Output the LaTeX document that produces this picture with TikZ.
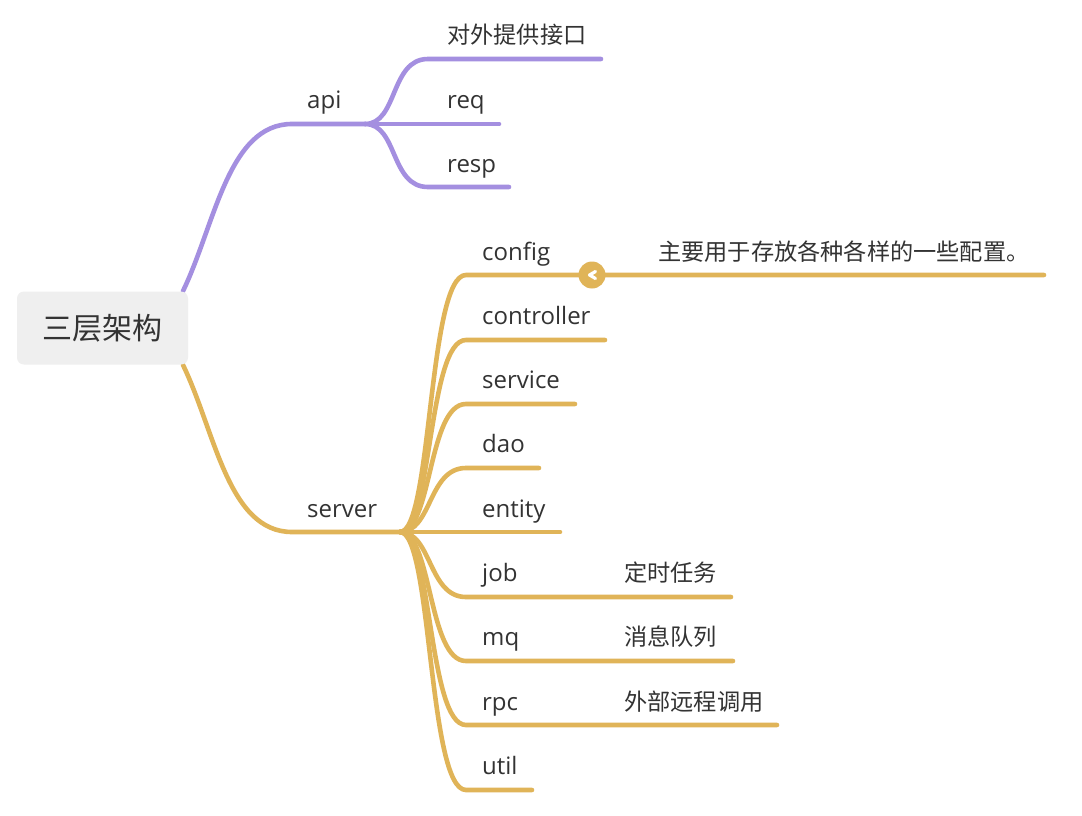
\documentclass[tikz,border=0pt]{standalone}
\usepackage{fontspec}
\newfontfamily\latinf{Open Sans}
\newfontfamily\cjkf{Noto Sans CJK SC}
\definecolor{purp}{HTML}{A48FE0}
\definecolor{gold}{HTML}{E0B458}
\definecolor{ink}{HTML}{333333}
\definecolor{rootbg}{HTML}{EFEFEF}
\tikzset{
  lat/.style={font=\latinf\fontsize{24}{26}\selectfont,text=ink,anchor=base west,inner sep=0pt},
  han/.style={font=\cjkf\fontsize{23.2}{26}\selectfont,text=ink,anchor=base west,inner sep=0pt},
  rootbox/.style={fill=rootbg,rounded corners=7pt,minimum width=171pt,minimum height=73pt,inner sep=0pt,font=\cjkf\fontsize{30}{34}\selectfont,text=ink},
  pline/.style={purp,line width=4.6pt,line cap=round},
  gline/.style={gold,line width=4.6pt,line cap=round},
  knob/.style={circle,fill=gold,minimum size=27pt,inner sep=0pt},
  chev/.style={white,line width=3.2pt,line cap=round,line join=round},
}
\begin{document}
\begin{tikzpicture}[x=1pt,y=-1pt]
\useasboundingbox (0,0) rectangle (1082,816);
\fill[white] (0,0) rectangle (1082,816);
\coordinate (rt) at (183,291);
\coordinate (rb) at (183,365);
\coordinate (apiC) at (292,124);
\coordinate (apiJ) at (365,124);
\coordinate (srvC) at (292,532);
\coordinate (srvJ) at (400,532);
\foreach \n/\cx/\ex/\y in {a1/428/601/59,a2/428/499/124,a3/428/509/187}{
  \coordinate (\n c) at (\cx,\y); \coordinate (\n e) at (\ex,\y);}
\foreach \n/\ex/\y in {s1/1044/275,s2/605/340,s3/575/404,s4/539/468,s5/560/532,s6/731/597,s7/733/661,s8/777/725,s9/532/790}{
  \coordinate (\n c) at (466,\y); \coordinate (\n e) at (\ex,\y);}
% connectors
\draw[pline] (rt) .. controls (215,225) and (228,124) .. (apiC) -- (apiJ);
\draw[gline] (rb) .. controls (215,431) and (228,532) .. (srvC) -- (srvJ);
\draw[pline] (apiJ) -- (a2e);
\draw[pline] (apiJ) .. controls (398,124) and (390,59) .. (a1c) -- (a1e);
\draw[pline] (apiJ) .. controls (398,124) and (390,187) .. (a3c) -- (a3e);
\foreach \n in {s1,s2,s3,s4,s6,s7,s8,s9}{
  \draw[gline] (srvJ) .. controls (432,532) and (428,0|-\n c) .. (\n c) -- (\n e);
}
\draw[gline] (srvJ) -- (s5e);
% root
\node[rootbox] (root) at (102.5,328) {三层架构};
% labels
\node[lat] (api) at (307,108) {api};
\node[lat] (srv) at (307,517) {server};
\node[han] (a1t) at (447,44) {对外提供接口};
\node[lat] (a2t) at (447,108) {req};
\node[lat] (a3t) at (447,172) {resp};
\node[lat] (s1t) at (482,260) {config};
\node[lat] (s2t) at (482,324) {controller};
\node[lat] (s3t) at (482,388) {service};
\node[lat] (s4t) at (482,452) {dao};
\node[lat] (s5t) at (482,517) {entity};
\node[lat] (s6t) at (482,581) {job};
\node[lat] (s7t) at (482,645) {mq};
\node[lat] (s8t) at (482,710) {rpc};
\node[lat] (s9t) at (482,774) {util};
\node[han] (n1) at (658,260) {主要用于存放各种各样的一些配置。};
\node[han] (n6) at (624,581) {定时任务};
\node[han] (n7) at (624,645) {消息队列};
\node[han] (n8) at (624,710) {外部远程调用};
\node[knob] (fold) at (592,275) {};
\draw[chev] ([xshift=3.5pt,yshift=-3.5pt]fold.center) -- ([xshift=-2.5pt]fold.center) -- ([xshift=3.5pt,yshift=3.5pt]fold.center);
\end{tikzpicture}
\end{document}
